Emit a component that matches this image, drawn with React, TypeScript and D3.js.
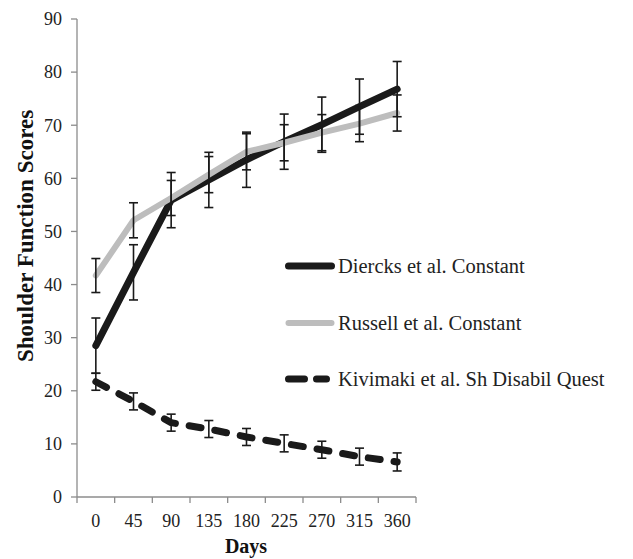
import React, { useEffect, useRef } from "react";
import * as d3 from "d3";

const days = ["0", "45", "90", "135", "180", "225", "270", "315", "360"];
const diercks = [28.5, 42.3, 55.9, 59.7, 63.5, 66.9, 70.1, 73.5, 76.8];
const diercksErr = [5.2, 5.2, 5.2, 5.2, 5.2, 5.2, 5.2, 5.2, 5.2];
const russell = [41.7, 52.1, 56.3, 60.7, 65.0, 66.7, 68.6, 70.3, 72.3];
const russellErr = [3.2, 3.3, 3.3, 3.4, 3.4, 3.4, 3.4, 3.4, 3.4];
const kivimaki = [21.7, 18.0, 14.0, 12.8, 11.3, 10.1, 8.9, 7.6, 6.6];
const kivimakiErr = [1.6, 1.6, 1.6, 1.6, 1.6, 1.6, 1.6, 1.6, 1.7];
const yTicks = [0, 10, 20, 30, 40, 50, 60, 70, 80, 90];

const seriesNames = [
  "Diercks et al. Constant",
  "Russell et al. Constant",
  "Kivimaki et al. Sh Disabil Quest",
];

export default function App() {
  const ref = useRef<SVGSVGElement>(null);

  useEffect(() => {
    const width = 633;
    const height = 559;
    const margin = { top: 19, left: 77, bottom: 62, right: 217 };
    const font = "'Liberation Serif', serif";

    const svg = d3.select(ref.current);
    svg.selectAll("*").remove();
    svg.attr("width", width).attr("height", height);

    const x = d3
      .scaleBand()
      .domain(days)
      .range([margin.left, width - margin.right]);
    const y = d3
      .scaleLinear()
      .domain([0, 90])
      .range([height - margin.bottom, margin.top]);
    const cx = (d: string) => (x(d) as number) + x.bandwidth() / 2;

    const axisColor = "#8c8c8c";
    const y0 = y(0);

    // y axis
    svg
      .append("line")
      .attr("x1", margin.left)
      .attr("x2", margin.left)
      .attr("y1", y(90))
      .attr("y2", y0)
      .attr("stroke", axisColor)
      .attr("stroke-width", 1.3);
    svg
      .selectAll(".ytick")
      .data(yTicks)
      .enter()
      .append("line")
      .attr("x1", margin.left - 6)
      .attr("x2", margin.left)
      .attr("y1", (d) => y(d))
      .attr("y2", (d) => y(d))
      .attr("stroke", axisColor)
      .attr("stroke-width", 1.3);
    svg
      .selectAll(".ylab")
      .data(yTicks)
      .enter()
      .append("text")
      .attr("x", 62)
      .attr("y", (d) => y(d))
      .attr("dy", "0.35em")
      .attr("text-anchor", "end")
      .attr("font-family", font)
      .attr("font-size", 18)
      .attr("fill", "#222")
      .text((d) => d);

    // x axis
    svg
      .append("line")
      .attr("x1", margin.left)
      .attr("x2", width - margin.right)
      .attr("y1", y0)
      .attr("y2", y0)
      .attr("stroke", axisColor)
      .attr("stroke-width", 1.3);
    const edges = days.map((d) => x(d) as number).concat([width - margin.right]);
    svg
      .selectAll(".xtick")
      .data(edges)
      .enter()
      .append("line")
      .attr("x1", (d) => d)
      .attr("x2", (d) => d)
      .attr("y1", y0)
      .attr("y2", y0 + 6)
      .attr("stroke", axisColor)
      .attr("stroke-width", 1.3);
    svg
      .selectAll(".xlab")
      .data(days)
      .enter()
      .append("text")
      .attr("x", (d) => cx(d))
      .attr("y", 527)
      .attr("text-anchor", "middle")
      .attr("font-family", font)
      .attr("font-size", 18)
      .attr("fill", "#222")
      .text((d) => d);

    // titles
    svg
      .append("text")
      .attr("x", 246)
      .attr("y", 553)
      .attr("text-anchor", "middle")
      .attr("font-family", font)
      .attr("font-weight", "bold")
      .attr("font-size", 20)
      .attr("fill", "#111")
      .text("Days");
    svg
      .append("text")
      .attr("transform", "translate(33,236) rotate(-90)")
      .attr("text-anchor", "middle")
      .attr("font-family", font)
      .attr("font-weight", "bold")
      .attr("font-size", 23)
      .attr("fill", "#111")
      .text("Shoulder Function Scores");

    const series = [
      { name: seriesNames[0], values: diercks, err: diercksErr, color: "#1a1a1a", w: 7, dash: null },
      { name: seriesNames[1], values: russell, err: russellErr, color: "#bdbdbd", w: 6, dash: null },
      { name: seriesNames[2], values: kivimaki, err: kivimakiErr, color: "#1a1a1a", w: 7, dash: "12,14" },
    ];

    const line = d3
      .line<number>()
      .x((_, i) => cx(days[i]))
      .y((d) => y(d));

    series.forEach((s) => {
      const p = svg
        .append("path")
        .datum(s.values)
        .attr("d", line)
        .attr("fill", "none")
        .attr("stroke", s.color)
        .attr("stroke-width", s.w)
        .attr("stroke-linejoin", "round")
        .attr("stroke-linecap", "round");
      if (s.dash) p.attr("stroke-dasharray", s.dash);
    });

    // error bars
    series.forEach((s) => {
      const g = svg.append("g").attr("stroke", "#1a1a1a").attr("stroke-width", 1.6);
      s.values.forEach((v, i) => {
        const px = cx(days[i]);
        const top = y(v + s.err[i]);
        const bot = y(v - s.err[i]);
        g.append("line").attr("x1", px).attr("x2", px).attr("y1", top).attr("y2", bot);
        g.append("line").attr("x1", px - 4.5).attr("x2", px + 4.5).attr("y1", top).attr("y2", top);
        g.append("line").attr("x1", px - 4.5).attr("x2", px + 4.5).attr("y1", bot).attr("y2", bot);
      });
    });

    // legend
    const legendY = [266, 323, 379];
    series.forEach((s, i) => {
      const ly = legendY[i];
      const l = svg
        .append("line")
        .attr("x1", 288.5)
        .attr("x2", s.dash ? 326.5 : 331.5)
        .attr("y1", ly)
        .attr("y2", ly)
        .attr("stroke", s.color)
        .attr("stroke-width", s.w)
        .attr("stroke-linecap", "round");
      if (s.dash) l.attr("stroke-dasharray", "16,12");
      svg
        .append("text")
        .attr("x", 338)
        .attr("y", ly)
        .attr("dy", "0.33em")
        .attr("font-family", font)
        .attr("font-size", 20.5)
        .attr("fill", "#222")
        .text(s.name);
    });
  }, []);

  return (
    <div style={{ position: "absolute", left: 0, top: 0 }}>
      <svg ref={ref}></svg>
    </div>
  );
}
